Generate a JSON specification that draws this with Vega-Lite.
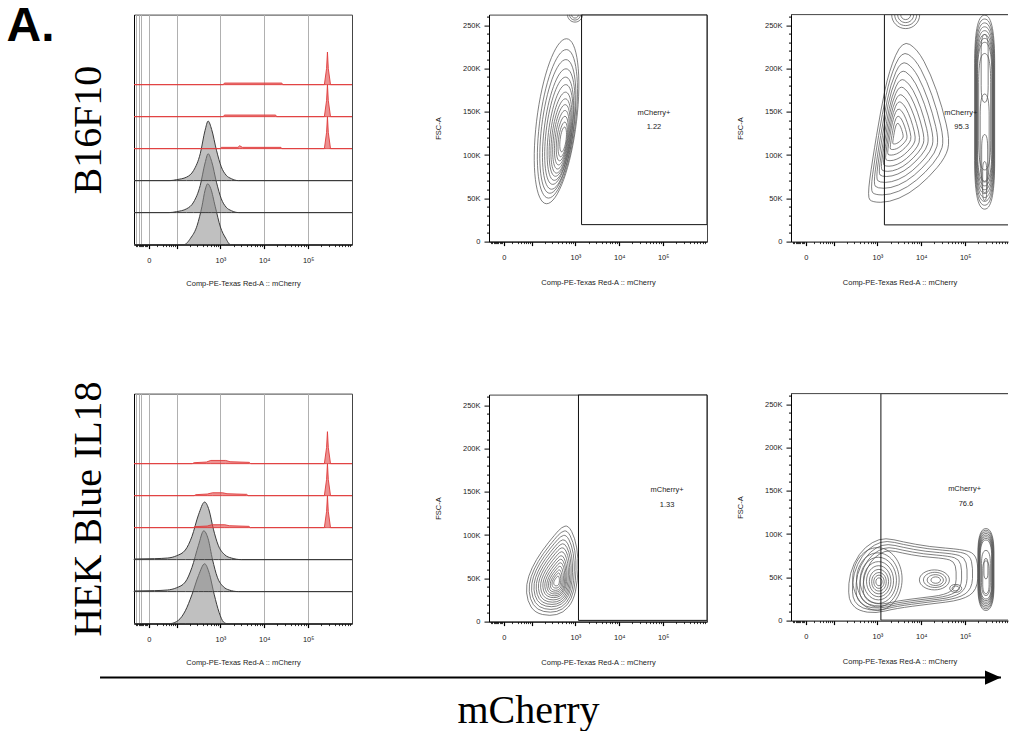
{
  "$schema": "https://vega.github.io/schema/vega-lite/v6.json",
  "padding": {"left": 6, "top": 2.6, "right": 0, "bottom": 0},
  "title": {"text": "A.", "anchor": "start", "frame": "bounds", "font": "Liberation Sans", "fontSize": 48, "fontWeight": "bold", "color": "#000", "baseline": "alphabetic", "offset": -74.5, "dx": -61},
  "datasets": {
    "h1": [
      {"s":"c1","k":"c","u":1.03,"y0":0,"y1":0},{"s":"c1","k":"c","u":2.17,"y0":0,"y1":0},{"s":"c1","k":"c","u":2.32,"y0":0,"y1":0.2},{"s":"c1","k":"c","u":2.47,"y0":0,"y1":0.6},{"s":"c1","k":"c","u":2.58,"y0":0,"y1":1.2},{"s":"c1","k":"c","u":2.65,"y0":0,"y1":1.7},{"s":"c1","k":"c","u":2.71,"y0":0,"y1":1.9},{"s":"c1","k":"c","u":2.78,"y0":0,"y1":1.75},{"s":"c1","k":"c","u":2.88,"y0":0,"y1":1.2},{"s":"c1","k":"c","u":3.0,"y0":0,"y1":0.55},{"s":"c1","k":"c","u":3.12,"y0":0,"y1":0.2},{"s":"c1","k":"c","u":3.23,"y0":0,"y1":0},{"s":"c1","k":"c","u":6.0,"y0":0,"y1":0},
      {"s":"c2","k":"c","u":1.03,"y0":1,"y1":1},{"s":"c2","k":"c","u":1.83,"y0":1,"y1":1},{"s":"c2","k":"c","u":2.0,"y0":1,"y1":1.03},{"s":"c2","k":"c","u":2.23,"y0":1,"y1":1.12},{"s":"c2","k":"c","u":2.39,"y0":1,"y1":1.33},{"s":"c2","k":"c","u":2.54,"y0":1,"y1":1.85},{"s":"c2","k":"c","u":2.65,"y0":1,"y1":2.55},{"s":"c2","k":"c","u":2.72,"y0":1,"y1":2.84},{"s":"c2","k":"c","u":2.8,"y0":1,"y1":2.6},{"s":"c2","k":"c","u":2.91,"y0":1,"y1":1.95},{"s":"c2","k":"c","u":3.02,"y0":1,"y1":1.43},{"s":"c2","k":"c","u":3.13,"y0":1,"y1":1.17},{"s":"c2","k":"c","u":3.25,"y0":1,"y1":1.06},{"s":"c2","k":"c","u":3.42,"y0":1,"y1":1},{"s":"c2","k":"c","u":6.0,"y0":1,"y1":1},
      {"s":"c3","k":"c","u":1.03,"y0":2,"y1":2},{"s":"c3","k":"c","u":1.85,"y0":2,"y1":2},{"s":"c3","k":"c","u":2.0,"y0":2,"y1":2.03},{"s":"c3","k":"c","u":2.23,"y0":2,"y1":2.11},{"s":"c3","k":"c","u":2.39,"y0":2,"y1":2.32},{"s":"c3","k":"c","u":2.54,"y0":2,"y1":2.84},{"s":"c3","k":"c","u":2.65,"y0":2,"y1":3.57},{"s":"c3","k":"c","u":2.72,"y0":2,"y1":3.86},{"s":"c3","k":"c","u":2.8,"y0":2,"y1":3.6},{"s":"c3","k":"c","u":2.91,"y0":2,"y1":2.95},{"s":"c3","k":"c","u":3.02,"y0":2,"y1":2.43},{"s":"c3","k":"c","u":3.13,"y0":2,"y1":2.17},{"s":"c3","k":"c","u":3.25,"y0":2,"y1":2.06},{"s":"c3","k":"c","u":3.41,"y0":2,"y1":2},{"s":"c3","k":"c","u":6.0,"y0":2,"y1":2},
      {"s":"m1","k":"m","u":1.03,"y0":3,"y1":3},{"s":"m1","k":"m","u":3.0,"y0":3,"y1":3},{"s":"m1","k":"m","u":3.02,"y0":3,"y1":3.04},{"s":"m1","k":"m","u":3.4,"y0":3,"y1":3.04},{"s":"m1","k":"m","u":3.44,"y0":3,"y1":3.09},{"s":"m1","k":"m","u":3.5,"y0":3,"y1":3.04},{"s":"m1","k":"m","u":4.38,"y0":3,"y1":3.04},{"s":"m1","k":"m","u":4.4,"y0":3,"y1":3},{"s":"m1","k":"m","u":5.37,"y0":3,"y1":3},{"s":"m1","k":"m","u":5.42,"y0":3,"y1":3.5},{"s":"m1","k":"m","u":5.44,"y0":3,"y1":4.0},{"s":"m1","k":"m","u":5.46,"y0":3,"y1":3.5},{"s":"m1","k":"m","u":5.51,"y0":3,"y1":3},{"s":"m1","k":"m","u":6.0,"y0":3,"y1":3},
      {"s":"m2","k":"m","u":1.03,"y0":4,"y1":4},{"s":"m2","k":"m","u":3.07,"y0":4,"y1":4},{"s":"m2","k":"m","u":3.09,"y0":4,"y1":4.05},{"s":"m2","k":"m","u":4.26,"y0":4,"y1":4.05},{"s":"m2","k":"m","u":4.28,"y0":4,"y1":4},{"s":"m2","k":"m","u":5.37,"y0":4,"y1":4},{"s":"m2","k":"m","u":5.42,"y0":4,"y1":4.5},{"s":"m2","k":"m","u":5.44,"y0":4,"y1":5.0},{"s":"m2","k":"m","u":5.46,"y0":4,"y1":4.5},{"s":"m2","k":"m","u":5.51,"y0":4,"y1":4},{"s":"m2","k":"m","u":6.0,"y0":4,"y1":4},
      {"s":"m3","k":"m","u":1.03,"y0":5,"y1":5},{"s":"m3","k":"m","u":3.07,"y0":5,"y1":5},{"s":"m3","k":"m","u":3.09,"y0":5,"y1":5.05},{"s":"m3","k":"m","u":4.4,"y0":5,"y1":5.05},{"s":"m3","k":"m","u":4.42,"y0":5,"y1":5},{"s":"m3","k":"m","u":5.37,"y0":5,"y1":5},{"s":"m3","k":"m","u":5.42,"y0":5,"y1":5.5},{"s":"m3","k":"m","u":5.44,"y0":5,"y1":6.02},{"s":"m3","k":"m","u":5.46,"y0":5,"y1":5.5},{"s":"m3","k":"m","u":5.51,"y0":5,"y1":5},{"s":"m3","k":"m","u":6.0,"y0":5,"y1":5}
    ],
    "h2": [
      {"s":"c1","k":"c","u":1.03,"y0":0,"y1":0},{"s":"c1","k":"c","u":1.85,"y0":0,"y1":0},{"s":"c1","k":"c","u":2.04,"y0":0,"y1":0.1},{"s":"c1","k":"c","u":2.2,"y0":0,"y1":0.4},{"s":"c1","k":"c","u":2.35,"y0":0,"y1":0.9},{"s":"c1","k":"c","u":2.5,"y0":0,"y1":1.5},{"s":"c1","k":"c","u":2.64,"y0":0,"y1":1.87},{"s":"c1","k":"c","u":2.74,"y0":0,"y1":1.6},{"s":"c1","k":"c","u":2.86,"y0":0,"y1":0.9},{"s":"c1","k":"c","u":2.97,"y0":0,"y1":0.35},{"s":"c1","k":"c","u":3.07,"y0":0,"y1":0.05},{"s":"c1","k":"c","u":3.15,"y0":0,"y1":0},{"s":"c1","k":"c","u":6.0,"y0":0,"y1":0},
      {"s":"c2","k":"c","u":1.03,"y0":1,"y1":1.02},{"s":"c2","k":"c","u":1.5,"y0":1,"y1":1.03},{"s":"c2","k":"c","u":1.79,"y0":1,"y1":1.05},{"s":"c2","k":"c","u":2.0,"y0":1,"y1":1.12},{"s":"c2","k":"c","u":2.2,"y0":1,"y1":1.3},{"s":"c2","k":"c","u":2.35,"y0":1,"y1":1.75},{"s":"c2","k":"c","u":2.5,"y0":1,"y1":2.45},{"s":"c2","k":"c","u":2.62,"y0":1,"y1":2.9},{"s":"c2","k":"c","u":2.72,"y0":1,"y1":2.65},{"s":"c2","k":"c","u":2.82,"y0":1,"y1":2.0},{"s":"c2","k":"c","u":2.93,"y0":1,"y1":1.45},{"s":"c2","k":"c","u":3.07,"y0":1,"y1":1.15},{"s":"c2","k":"c","u":3.2,"y0":1,"y1":1.05},{"s":"c2","k":"c","u":3.41,"y0":1,"y1":1},{"s":"c2","k":"c","u":6.0,"y0":1,"y1":1},
      {"s":"c3","k":"c","u":1.03,"y0":2,"y1":2.02},{"s":"c3","k":"c","u":1.5,"y0":2,"y1":2.03},{"s":"c3","k":"c","u":1.8,"y0":2,"y1":2.05},{"s":"c3","k":"c","u":2.0,"y0":2,"y1":2.12},{"s":"c3","k":"c","u":2.2,"y0":2,"y1":2.3},{"s":"c3","k":"c","u":2.35,"y0":2,"y1":2.72},{"s":"c3","k":"c","u":2.5,"y0":2,"y1":3.4},{"s":"c3","k":"c","u":2.64,"y0":2,"y1":3.8},{"s":"c3","k":"c","u":2.74,"y0":2,"y1":3.55},{"s":"c3","k":"c","u":2.84,"y0":2,"y1":2.95},{"s":"c3","k":"c","u":2.95,"y0":2,"y1":2.45},{"s":"c3","k":"c","u":3.1,"y0":2,"y1":2.15},{"s":"c3","k":"c","u":3.25,"y0":2,"y1":2.05},{"s":"c3","k":"c","u":3.48,"y0":2,"y1":2},{"s":"c3","k":"c","u":6.0,"y0":2,"y1":2},
      {"s":"m1","k":"m","u":1.03,"y0":3,"y1":3},{"s":"m1","k":"m","u":2.38,"y0":3,"y1":3},{"s":"m1","k":"m","u":2.42,"y0":3,"y1":3.03},{"s":"m1","k":"m","u":2.7,"y0":3,"y1":3.05},{"s":"m1","k":"m","u":2.8,"y0":3,"y1":3.09},{"s":"m1","k":"m","u":3.1,"y0":3,"y1":3.09},{"s":"m1","k":"m","u":3.2,"y0":3,"y1":3.06},{"s":"m1","k":"m","u":3.65,"y0":3,"y1":3.04},{"s":"m1","k":"m","u":3.68,"y0":3,"y1":3},{"s":"m1","k":"m","u":5.37,"y0":3,"y1":3},{"s":"m1","k":"m","u":5.42,"y0":3,"y1":3.5},{"s":"m1","k":"m","u":5.44,"y0":3,"y1":4.0},{"s":"m1","k":"m","u":5.46,"y0":3,"y1":3.5},{"s":"m1","k":"m","u":5.51,"y0":3,"y1":3},{"s":"m1","k":"m","u":6.0,"y0":3,"y1":3},
      {"s":"m2","k":"m","u":1.03,"y0":4,"y1":4},{"s":"m2","k":"m","u":2.4,"y0":4,"y1":4},{"s":"m2","k":"m","u":2.44,"y0":4,"y1":4.03},{"s":"m2","k":"m","u":2.7,"y0":4,"y1":4.05},{"s":"m2","k":"m","u":2.82,"y0":4,"y1":4.09},{"s":"m2","k":"m","u":3.05,"y0":4,"y1":4.09},{"s":"m2","k":"m","u":3.15,"y0":4,"y1":4.06},{"s":"m2","k":"m","u":3.6,"y0":4,"y1":4.04},{"s":"m2","k":"m","u":3.63,"y0":4,"y1":4},{"s":"m2","k":"m","u":5.37,"y0":4,"y1":4},{"s":"m2","k":"m","u":5.42,"y0":4,"y1":4.5},{"s":"m2","k":"m","u":5.44,"y0":4,"y1":5.0},{"s":"m2","k":"m","u":5.46,"y0":4,"y1":4.5},{"s":"m2","k":"m","u":5.51,"y0":4,"y1":4},{"s":"m2","k":"m","u":6.0,"y0":4,"y1":4},
      {"s":"m3","k":"m","u":1.03,"y0":5,"y1":5},{"s":"m3","k":"m","u":2.36,"y0":5,"y1":5},{"s":"m3","k":"m","u":2.4,"y0":5,"y1":5.03},{"s":"m3","k":"m","u":2.68,"y0":5,"y1":5.05},{"s":"m3","k":"m","u":2.78,"y0":5,"y1":5.1},{"s":"m3","k":"m","u":3.12,"y0":5,"y1":5.1},{"s":"m3","k":"m","u":3.22,"y0":5,"y1":5.06},{"s":"m3","k":"m","u":3.66,"y0":5,"y1":5.04},{"s":"m3","k":"m","u":3.69,"y0":5,"y1":5},{"s":"m3","k":"m","u":5.37,"y0":5,"y1":5},{"s":"m3","k":"m","u":5.42,"y0":5,"y1":5.5},{"s":"m3","k":"m","u":5.44,"y0":5,"y1":6.0},{"s":"m3","k":"m","u":5.46,"y0":5,"y1":5.5},{"s":"m3","k":"m","u":5.51,"y0":5,"y1":5},{"s":"m3","k":"m","u":6.0,"y0":5,"y1":5}
    ],
    "c1": [
      {"u":2.57,"f":139000,"r":1,"sh":"tilt"},{"u":2.59,"f":136000,"r":0.9,"sh":"tilt"},{"u":2.6,"f":133000,"r":0.81,"sh":"tilt"},{"u":2.62,"f":130000,"r":0.73,"sh":"tilt"},{"u":2.63,"f":128000,"r":0.65,"sh":"tilt"},{"u":2.65,"f":126000,"r":0.58,"sh":"tilt"},{"u":2.66,"f":124000,"r":0.51,"sh":"tilt"},{"u":2.67,"f":122000,"r":0.45,"sh":"tilt"},{"u":2.68,"f":121000,"r":0.39,"sh":"tilt"},{"u":2.69,"f":120000,"r":0.33,"sh":"tilt"},{"u":2.7,"f":119000,"r":0.27,"sh":"tilt"},{"u":2.71,"f":118000,"r":0.21,"sh":"tilt"},{"u":2.72,"f":118000,"r":0.15,"sh":"tilt"},
      {"u":2.99,"f":262144,"r":0.15,"sh":"cap"},{"u":2.99,"f":262144,"r":0.11,"sh":"cap"},{"u":2.99,"f":262144,"r":0.07,"sh":"cap"}
    ],
    "c2": [
      {"u":3.645,"f":132000,"r":1,"sh":"tear"},{"u":3.62,"f":131000,"r":0.89,"sh":"tear"},{"u":3.6,"f":130000,"r":0.79,"sh":"tear"},{"u":3.58,"f":129000,"r":0.7,"sh":"tear"},{"u":3.56,"f":128000,"r":0.61,"sh":"tear"},{"u":3.54,"f":127000,"r":0.53,"sh":"tear"},{"u":3.52,"f":126000,"r":0.45,"sh":"tear"},{"u":3.5,"f":125500,"r":0.37,"sh":"tear"},{"u":3.48,"f":125000,"r":0.29,"sh":"tear"},{"u":3.47,"f":124500,"r":0.21,"sh":"tear"},{"u":3.46,"f":124000,"r":0.13,"sh":"tear"},
      {"u":3.645,"f":262144,"r":0.28,"sh":"cap"},{"u":3.645,"f":262144,"r":0.22,"sh":"cap"},{"u":3.645,"f":262144,"r":0.16,"sh":"cap"},{"u":3.645,"f":262144,"r":0.1,"sh":"cap"},
      {"u":5.446,"f":149500,"r":1,"sh":"col"},{"u":5.446,"f":149500,"r":0.96,"sh":"col"},{"u":5.446,"f":149500,"r":0.92,"sh":"col"},{"u":5.446,"f":149500,"r":0.88,"sh":"col"},{"u":5.446,"f":149500,"r":0.84,"sh":"col"},{"u":5.446,"f":149500,"r":0.8,"sh":"col"},{"u":5.446,"f":149500,"r":0.76,"sh":"col"},{"u":5.446,"f":149500,"r":0.72,"sh":"col"},
      {"u":5.446,"f":150000,"r":0.6,"sh":"col"},{"u":5.446,"f":120000,"r":0.45,"sh":"col"},{"u":5.446,"f":90000,"r":0.3,"sh":"col"},{"u":5.446,"f":200000,"r":0.35,"sh":"col"},{"u":5.446,"f":70000,"r":0.2,"sh":"col"}
    ],
    "c3": [
      {"u":2.466,"f":59000,"r":1,"sh":"egg"},{"u":2.474,"f":58000,"r":0.91,"sh":"egg"},{"u":2.482,"f":57000,"r":0.83,"sh":"egg"},{"u":2.49,"f":56000,"r":0.75,"sh":"egg"},{"u":2.5,"f":55000,"r":0.68,"sh":"egg"},{"u":2.51,"f":54000,"r":0.61,"sh":"egg"},{"u":2.52,"f":53000,"r":0.54,"sh":"egg"},{"u":2.53,"f":52000,"r":0.47,"sh":"egg"},{"u":2.54,"f":51000,"r":0.41,"sh":"egg"},{"u":2.55,"f":50000,"r":0.35,"sh":"egg"},{"u":2.555,"f":49000,"r":0.29,"sh":"egg"},{"u":2.56,"f":48000,"r":0.23,"sh":"egg"},{"u":2.565,"f":47500,"r":0.17,"sh":"egg"},{"u":2.57,"f":47000,"r":0.11,"sh":"egg"}
    ],
    "c4": [
      {"u":3.795,"f":50600,"r":1,"sh":"band"},{"u":3.78,"f":50500,"r":0.93,"sh":"band"},{"u":3.76,"f":50000,"r":0.86,"sh":"band"},{"u":3.74,"f":49500,"r":0.79,"sh":"band"},{"u":3.72,"f":49000,"r":0.72,"sh":"band"},
      {"u":3.0,"f":48000,"r":0.95,"sh":"lobe"},{"u":3.01,"f":47000,"r":0.82,"sh":"lobe"},{"u":3.02,"f":46500,"r":0.7,"sh":"lobe"},{"u":3.025,"f":46000,"r":0.58,"sh":"lobe"},{"u":3.03,"f":45500,"r":0.47,"sh":"lobe"},{"u":3.035,"f":45000,"r":0.37,"sh":"lobe"},{"u":3.036,"f":44800,"r":0.28,"sh":"lobe"},{"u":3.036,"f":44800,"r":0.2,"sh":"lobe"},{"u":3.036,"f":44800,"r":0.12,"sh":"lobe"},
      {"u":4.3,"f":47000,"r":0.5,"sh":"oval"},{"u":4.31,"f":47000,"r":0.38,"sh":"oval"},{"u":4.32,"f":46800,"r":0.27,"sh":"oval"},{"u":4.33,"f":46800,"r":0.16,"sh":"oval"},{"u":4.785,"f":37200,"r":0.2,"sh":"oval"},{"u":4.785,"f":37200,"r":0.12,"sh":"oval"},
      {"u":5.475,"f":59000,"r":1,"sh":"col2"},{"u":5.475,"f":59000,"r":0.96,"sh":"col2"},{"u":5.475,"f":59000,"r":0.92,"sh":"col2"},{"u":5.475,"f":59000,"r":0.88,"sh":"col2"},{"u":5.475,"f":59000,"r":0.84,"sh":"col2"},{"u":5.475,"f":59000,"r":0.8,"sh":"col2"},{"u":5.475,"f":59000,"r":0.76,"sh":"col2"},{"u":5.475,"f":59000,"r":0.72,"sh":"col2"},{"u":5.475,"f":55000,"r":0.55,"sh":"col2"},{"u":5.475,"f":50000,"r":0.4,"sh":"col2"},{"u":5.475,"f":60000,"r":0.25,"sh":"col2"}
    ]
  },
  "vconcat": [
    {
      "spacing": 78,
      "hconcat": [
        {
          "spacing": 92,
          "vconcat": [
            {
              "width": 218, "height": 230,
              "data": {"name": "h1"},
              "resolve": {"axis": {"x": "independent"}},
              "layer": [
                {"transform": [{"filter": "datum.k == 'c'"}],
                 "mark": {"type": "area", "interpolate": "monotone", "fill": "#8c8c8c", "fillOpacity": 0.55, "stroke": "#3a3a3a", "strokeWidth": 1},
                 "encoding": {
                   "x": {"field": "u", "type": "quantitative", "scale": {"domain": [1.03, 6.0], "nice": false, "zero": false},
                         "axis": {"orient": "bottom", "values": [1.37, 2, 3, 4, 5], "labelExpr": "datum.value == 1.37 ? '0' : datum.value == 3 ? '10³' : datum.value == 4 ? '10⁴' : datum.value == 5 ? '10⁵' : ''", "tickSize": 4, "tickWidth": 1.2, "labelPadding": 8, "domain": true, "grid": false, "title": "Comp-PE-Texas Red-A :: mCherry", "titleY": 41, "titleBaseline": "alphabetic"}},
                   "y": {"field": "y1", "type": "quantitative", "scale": {"domain": [0, 7.19], "nice": false, "zero": false},
                         "axis": {"labels": false, "ticks": false, "grid": false, "domain": true, "title": "B16F10", "titleFont": "Liberation Serif", "titleFontSize": 40, "titleFontWeight": "normal", "titleColor": "#000", "titlePadding": 26}},
                   "y2": {"field": "y0"},
                   "detail": {"field": "s"}
                 }},
                {"transform": [{"filter": "datum.k == 'm'"}],
                 "mark": {"type": "area", "fill": "#e04848", "fillOpacity": 0.6, "stroke": "#e03a3a", "strokeWidth": 0.9},
                 "encoding": {
                   "x": {"field": "u", "type": "quantitative",
                         "axis": {"orient": "bottom", "values": [1.075,1.105,1.135,1.16,1.18,1.21,1.24,1.27,1.3,1.33,1.37,1.55,1.68,1.77,1.83,1.88,1.92,1.96,2,2.301,2.477,2.602,2.699,2.778,2.845,2.903,2.954,3,3.301,3.477,3.602,3.699,3.778,3.845,3.903,3.954,4,4.301,4.477,4.602,4.699,4.778,4.845,4.903,4.954,5,5.301,5.477,5.602,5.699,5.778,5.845,5.903,5.954], "labels": false, "tickSize": 2, "tickWidth": 0.8, "domain": false, "title": null, "grid": true, "gridColor": "#b0b0b0", "gridOpacity": {"condition": {"test": "indexof([1.075,1.135,1.18,1.37,2,3,4,5], datum.value) >= 0", "value": 1}, "value": 0}}},
                   "y": {"field": "y1", "type": "quantitative"}, "y2": {"field": "y0"}, "detail": {"field": "s"}}}
              ]
            },
            {
              "width": 218, "height": 230,
              "data": {"name": "h2"},
              "resolve": {"axis": {"x": "independent"}},
              "layer": [
                {"transform": [{"filter": "datum.k == 'c'"}],
                 "mark": {"type": "area", "interpolate": "monotone", "fill": "#8c8c8c", "fillOpacity": 0.55, "stroke": "#3a3a3a", "strokeWidth": 1},
                 "encoding": {
                   "x": {"field": "u", "type": "quantitative", "scale": {"domain": [1.03, 6.0], "nice": false, "zero": false},
                         "axis": {"orient": "bottom", "values": [1.37, 2, 3, 4, 5], "labelExpr": "datum.value == 1.37 ? '0' : datum.value == 3 ? '10³' : datum.value == 4 ? '10⁴' : datum.value == 5 ? '10⁵' : ''", "tickSize": 4, "tickWidth": 1.2, "labelPadding": 8, "domain": true, "grid": false, "title": "Comp-PE-Texas Red-A :: mCherry", "titleY": 41, "titleBaseline": "alphabetic"}},
                   "y": {"field": "y1", "type": "quantitative", "scale": {"domain": [0, 7.19], "nice": false, "zero": false},
                         "axis": {"labels": false, "ticks": false, "grid": false, "domain": true, "title": "HEK Blue IL18", "titleFont": "Liberation Serif", "titleFontSize": 40, "titleFontWeight": "normal", "titleColor": "#000", "titlePadding": 26}},
                   "y2": {"field": "y0"},
                   "detail": {"field": "s"}
                 }},
                {"transform": [{"filter": "datum.k == 'm'"}],
                 "mark": {"type": "area", "fill": "#e04848", "fillOpacity": 0.6, "stroke": "#e03a3a", "strokeWidth": 0.9},
                 "encoding": {
                   "x": {"field": "u", "type": "quantitative",
                         "axis": {"orient": "bottom", "values": [1.075,1.105,1.135,1.16,1.18,1.21,1.24,1.27,1.3,1.33,1.37,1.55,1.68,1.77,1.83,1.88,1.92,1.96,2,2.301,2.477,2.602,2.699,2.778,2.845,2.903,2.954,3,3.301,3.477,3.602,3.699,3.778,3.845,3.903,3.954,4,4.301,4.477,4.602,4.699,4.778,4.845,4.903,4.954,5,5.301,5.477,5.602,5.699,5.778,5.845,5.903,5.954], "labels": false, "tickSize": 2, "tickWidth": 0.8, "domain": false, "title": null, "grid": true, "gridColor": "#b0b0b0", "gridOpacity": {"condition": {"test": "indexof([1.075,1.135,1.18,1.37,2,3,4,5], datum.value) >= 0", "value": 1}, "value": 0}}},
                   "y": {"field": "y1", "type": "quantitative"}, "y2": {"field": "y0"}, "detail": {"field": "s"}}}
              ]
            }
          ]
        },
        {
          "spacing": 28,
          "hconcat": [
            {
              "spacing": 107,
              "vconcat": [
                {
                  "width": 218, "height": 227,
                  "resolve": {"axis": {"x": "independent", "y": "independent"}},
                  "layer": [
                    {"data": {"name": "c1"},
                     "mark": {"type": "point", "filled": false, "strokeWidth": 0.75, "color": "#555", "opacity": 1, "clip": true, "strokeJoin": "round"},
                     "encoding": {
                       "x": {"field": "u", "type": "quantitative", "scale": {"domain": [1.03, 6.0], "nice": false, "zero": false},
                             "axis": {"orient": "bottom", "values": [1.37, 2, 3, 4, 5], "labelExpr": "datum.value == 1.37 ? '0' : datum.value == 3 ? '10³' : datum.value == 4 ? '10⁴' : datum.value == 5 ? '10⁵' : ''", "tickSize": 4, "tickWidth": 1.2, "labelPadding": 8, "domain": true, "title": "Comp-PE-Texas Red-A :: mCherry", "titleY": 42.5, "titleBaseline": "alphabetic"}},
                       "y": {"field": "f", "type": "quantitative", "scale": {"domain": [0, 262144], "nice": false, "zero": false},
                             "axis": {"orient": "left", "values": [0, 50000, 100000, 150000, 200000, 250000], "labelExpr": "datum.value == 0 ? '0' : (datum.value / 1000) + 'K'", "tickSize": 5, "labelPadding": 4, "domain": true, "title": "FSC-A", "titlePadding": 20}},
                       "shape": {"field": "sh", "type": "nominal", "legend": null, "scale": {"domain": ["tilt", "cap", "tear", "col", "egg", "band", "lobe", "oval", "col2"], "range": ["M0.198,-1.65C0.419,-1.65,0.509,-0.911,0.4,0C0.291,0.911,0.023,1.65,-0.198,1.65C-0.419,1.65,-0.509,0.911,-0.4,0C-0.291,-0.911,-0.023,-1.65,0.198,-1.65Z", "M-1,0A1,1,0,0,0,1,0", "M-0.717,1.45Q-0.767,1.4,-0.717,1.033Q-0.667,0.667,-0.583,0.167Q-0.5,-0.333,-0.417,-0.733Q-0.333,-1.133,-0.2,-1.44Q-0.067,-1.747,0.083,-1.657Q0.233,-1.567,0.367,-1.317Q0.5,-1.067,0.617,-0.733Q0.733,-0.4,0.81,-0.067Q0.887,0.267,0.843,0.433Q0.8,0.6,0.633,0.8Q0.467,1,0.267,1.167Q0.067,1.333,-0.133,1.417Q-0.333,1.5,-0.5,1.5Q-0.667,1.5,-0.717,1.45Z", "M0,-1.94C0.15,-1.94,0.2,-1.55,0.2,-0.97L0.2,0.97C0.2,1.55,0.15,1.94,0,1.94C-0.15,1.94,-0.2,1.55,-0.2,0.97L-0.2,-0.97C-0.2,-1.55,-0.15,-1.94,0,-1.94Z", "M0.26,-0.887Q0.327,-0.907,0.394,-0.78Q0.46,-0.653,0.494,-0.453Q0.527,-0.253,0.52,-0.02Q0.513,0.213,0.47,0.413Q0.427,0.613,0.327,0.73Q0.227,0.847,0.094,0.88Q-0.04,0.913,-0.19,0.88Q-0.34,0.847,-0.417,0.73Q-0.493,0.613,-0.507,0.447Q-0.52,0.28,-0.464,0.114Q-0.407,-0.053,-0.307,-0.22Q-0.207,-0.387,-0.074,-0.554Q0.06,-0.72,0.127,-0.794Q0.193,-0.867,0.26,-0.887Z", "M-1.257,0.433Q-1.28,0.333,-1.267,0.133Q-1.253,-0.067,-1.16,-0.267Q-1.067,-0.467,-0.934,-0.584Q-0.8,-0.7,-0.667,-0.74Q-0.533,-0.78,-0.367,-0.74Q-0.2,-0.7,0.067,-0.65Q0.333,-0.6,0.667,-0.574Q1,-0.547,1.127,-0.507Q1.253,-0.467,1.287,-0.334Q1.32,-0.2,1.31,0.034Q1.3,0.267,1.15,0.367Q1,0.467,0.667,0.507Q0.333,0.547,0,0.59Q-0.333,0.633,-0.533,0.683Q-0.733,0.733,-0.9,0.707Q-1.067,0.68,-1.15,0.607Q-1.233,0.533,-1.257,0.433Z", "M0.52,0A0.52,0.66,0,1,1,-0.52,0A0.52,0.66,0,1,1,0.52,0Z", "M0.6,0A0.6,0.4,0,1,1,-0.6,0A0.6,0.4,0,1,1,0.6,0Z", "M0,-0.82C0.12,-0.82,0.16,-0.6,0.16,-0.35L0.16,0.35C0.16,0.6,0.12,0.82,0,0.82C-0.12,0.82,-0.16,0.6,-0.16,0.35L-0.16,-0.35C-0.16,-0.6,-0.12,-0.82,0,-0.82Z"]}},
                       "size": {"field": "r", "type": "quantitative", "legend": null, "scale": {"type": "pow", "exponent": 2, "domain": [0, 1], "range": [0, 10000]}}
                     }},
                    {"data": {"values": [{"x1": 3.14, "x2": 6.0, "y1": 19600, "y2": 262144}]},
                     "mark": {"type": "rect", "filled": false, "color": "#111", "strokeWidth": 1, "clip": true},
                     "encoding": {
                       "x": {"field": "x1", "type": "quantitative", "axis": {"orient": "bottom", "values": [1.075,1.105,1.135,1.16,1.18,1.21,1.24,1.27,1.3,1.33,1.55,1.68,1.77,1.83,1.88,1.92,1.96,2.301,2.477,2.602,2.699,2.778,2.845,2.903,2.954,3.301,3.477,3.602,3.699,3.778,3.845,3.903,3.954,4.301,4.477,4.602,4.699,4.778,4.845,4.903,4.954,5.301,5.477,5.602,5.699,5.778,5.845,5.903,5.954], "labels": false, "tickSize": 2, "tickWidth": 0.8, "domain": false, "title": null}},
                       "x2": {"field": "x2"},
                       "y": {"field": "y1", "type": "quantitative", "axis": {"orient": "left", "values": [10000,20000,30000,40000,60000,70000,80000,90000,110000,120000,130000,140000,160000,170000,180000,190000,210000,220000,230000,240000,260000], "labels": false, "tickSize": 2.5, "domain": false, "title": null}},
                       "y2": {"field": "y2"}}},
                    {"data": {"values": [{"u": 4.79, "f": 148000, "t": "mCherry+"}, {"u": 4.79, "f": 132000, "t": "1.22"}]},
                     "mark": {"type": "text", "font": "Liberation Sans", "fontSize": 7.5, "color": "#222"},
                     "encoding": {"x": {"field": "u", "type": "quantitative", "axis": null}, "y": {"field": "f", "type": "quantitative", "axis": null}, "text": {"field": "t"}}}
                  ]
                },
                {
                  "width": 218, "height": 227,
                  "resolve": {"axis": {"x": "independent", "y": "independent"}},
                  "layer": [
                    {"data": {"name": "c3"},
                     "mark": {"type": "point", "filled": false, "strokeWidth": 0.75, "color": "#555", "opacity": 1, "clip": true, "strokeJoin": "round"},
                     "encoding": {
                       "x": {"field": "u", "type": "quantitative", "scale": {"domain": [1.03, 6.0], "nice": false, "zero": false},
                             "axis": {"orient": "bottom", "values": [1.37, 2, 3, 4, 5], "labelExpr": "datum.value == 1.37 ? '0' : datum.value == 3 ? '10³' : datum.value == 4 ? '10⁴' : datum.value == 5 ? '10⁵' : ''", "tickSize": 4, "tickWidth": 1.2, "labelPadding": 8, "domain": true, "title": "Comp-PE-Texas Red-A :: mCherry", "titleY": 42.5, "titleBaseline": "alphabetic"}},
                       "y": {"field": "f", "type": "quantitative", "scale": {"domain": [0, 262144], "nice": false, "zero": false},
                             "axis": {"orient": "left", "values": [0, 50000, 100000, 150000, 200000, 250000], "labelExpr": "datum.value == 0 ? '0' : (datum.value / 1000) + 'K'", "tickSize": 5, "labelPadding": 4, "domain": true, "title": "FSC-A", "titlePadding": 20}},
                       "shape": {"field": "sh", "type": "nominal", "legend": null, "scale": {"domain": ["tilt", "cap", "tear", "col", "egg", "band", "lobe", "oval", "col2"], "range": ["M0.198,-1.65C0.419,-1.65,0.509,-0.911,0.4,0C0.291,0.911,0.023,1.65,-0.198,1.65C-0.419,1.65,-0.509,0.911,-0.4,0C-0.291,-0.911,-0.023,-1.65,0.198,-1.65Z", "M-1,0A1,1,0,0,0,1,0", "M-0.717,1.45Q-0.767,1.4,-0.717,1.033Q-0.667,0.667,-0.583,0.167Q-0.5,-0.333,-0.417,-0.733Q-0.333,-1.133,-0.2,-1.44Q-0.067,-1.747,0.083,-1.657Q0.233,-1.567,0.367,-1.317Q0.5,-1.067,0.617,-0.733Q0.733,-0.4,0.81,-0.067Q0.887,0.267,0.843,0.433Q0.8,0.6,0.633,0.8Q0.467,1,0.267,1.167Q0.067,1.333,-0.133,1.417Q-0.333,1.5,-0.5,1.5Q-0.667,1.5,-0.717,1.45Z", "M0,-1.94C0.15,-1.94,0.2,-1.55,0.2,-0.97L0.2,0.97C0.2,1.55,0.15,1.94,0,1.94C-0.15,1.94,-0.2,1.55,-0.2,0.97L-0.2,-0.97C-0.2,-1.55,-0.15,-1.94,0,-1.94Z", "M0.26,-0.887Q0.327,-0.907,0.394,-0.78Q0.46,-0.653,0.494,-0.453Q0.527,-0.253,0.52,-0.02Q0.513,0.213,0.47,0.413Q0.427,0.613,0.327,0.73Q0.227,0.847,0.094,0.88Q-0.04,0.913,-0.19,0.88Q-0.34,0.847,-0.417,0.73Q-0.493,0.613,-0.507,0.447Q-0.52,0.28,-0.464,0.114Q-0.407,-0.053,-0.307,-0.22Q-0.207,-0.387,-0.074,-0.554Q0.06,-0.72,0.127,-0.794Q0.193,-0.867,0.26,-0.887Z", "M-1.257,0.433Q-1.28,0.333,-1.267,0.133Q-1.253,-0.067,-1.16,-0.267Q-1.067,-0.467,-0.934,-0.584Q-0.8,-0.7,-0.667,-0.74Q-0.533,-0.78,-0.367,-0.74Q-0.2,-0.7,0.067,-0.65Q0.333,-0.6,0.667,-0.574Q1,-0.547,1.127,-0.507Q1.253,-0.467,1.287,-0.334Q1.32,-0.2,1.31,0.034Q1.3,0.267,1.15,0.367Q1,0.467,0.667,0.507Q0.333,0.547,0,0.59Q-0.333,0.633,-0.533,0.683Q-0.733,0.733,-0.9,0.707Q-1.067,0.68,-1.15,0.607Q-1.233,0.533,-1.257,0.433Z", "M0.52,0A0.52,0.66,0,1,1,-0.52,0A0.52,0.66,0,1,1,0.52,0Z", "M0.6,0A0.6,0.4,0,1,1,-0.6,0A0.6,0.4,0,1,1,0.6,0Z", "M0,-0.82C0.12,-0.82,0.16,-0.6,0.16,-0.35L0.16,0.35C0.16,0.6,0.12,0.82,0,0.82C-0.12,0.82,-0.16,0.6,-0.16,0.35L-0.16,-0.35C-0.16,-0.6,-0.12,-0.82,0,-0.82Z"]}},
                       "size": {"field": "r", "type": "quantitative", "legend": null, "scale": {"type": "pow", "exponent": 2, "domain": [0, 1], "range": [0, 10000]}}
                     }},
                    {"data": {"values": [{"x1": 3.07, "x2": 6.0, "y1": 1400, "y2": 262144}]},
                     "mark": {"type": "rect", "filled": false, "color": "#111", "strokeWidth": 1, "clip": true},
                     "encoding": {
                       "x": {"field": "x1", "type": "quantitative", "axis": {"orient": "bottom", "values": [1.075,1.105,1.135,1.16,1.18,1.21,1.24,1.27,1.3,1.33,1.55,1.68,1.77,1.83,1.88,1.92,1.96,2.301,2.477,2.602,2.699,2.778,2.845,2.903,2.954,3.301,3.477,3.602,3.699,3.778,3.845,3.903,3.954,4.301,4.477,4.602,4.699,4.778,4.845,4.903,4.954,5.301,5.477,5.602,5.699,5.778,5.845,5.903,5.954], "labels": false, "tickSize": 2, "tickWidth": 0.8, "domain": false, "title": null}},
                       "x2": {"field": "x2"},
                       "y": {"field": "y1", "type": "quantitative", "axis": {"orient": "left", "values": [10000,20000,30000,40000,60000,70000,80000,90000,110000,120000,130000,140000,160000,170000,180000,190000,210000,220000,230000,240000,260000], "labels": false, "tickSize": 2.5, "domain": false, "title": null}},
                       "y2": {"field": "y2"}}},
                    {"data": {"values": [{"u": 5.09, "f": 151500, "t": "mCherry+"}, {"u": 5.09, "f": 135000, "t": "1.33"}]},
                     "mark": {"type": "text", "font": "Liberation Sans", "fontSize": 7.5, "color": "#222"},
                     "encoding": {"x": {"field": "u", "type": "quantitative", "axis": null}, "y": {"field": "f", "type": "quantitative", "axis": null}, "text": {"field": "t"}}}
                  ]
                }
              ]
            },
            {
              "spacing": 107,
              "vconcat": [
                {
                  "width": 217, "height": 227,
                  "view": {"stroke": null},
                  "resolve": {"axis": {"x": "independent", "y": "independent"}},
                  "layer": [
                    {"data": {"name": "c2"},
                     "mark": {"type": "point", "filled": false, "strokeWidth": 0.75, "color": "#555", "opacity": 1, "clip": true, "strokeJoin": "round"},
                     "encoding": {
                       "x": {"field": "u", "type": "quantitative", "scale": {"domain": [1.03, 5.978], "nice": false, "zero": false},
                             "axis": {"orient": "bottom", "values": [1.37, 2, 3, 4, 5], "labelExpr": "datum.value == 1.37 ? '0' : datum.value == 3 ? '10³' : datum.value == 4 ? '10⁴' : datum.value == 5 ? '10⁵' : ''", "tickSize": 4, "tickWidth": 1.2, "labelPadding": 8, "domain": true, "title": "Comp-PE-Texas Red-A :: mCherry", "titleY": 42.5, "titleBaseline": "alphabetic"}},
                       "y": {"field": "f", "type": "quantitative", "scale": {"domain": [0, 262144], "nice": false, "zero": false},
                             "axis": {"orient": "left", "values": [0, 50000, 100000, 150000, 200000, 250000], "labelExpr": "datum.value == 0 ? '0' : (datum.value / 1000) + 'K'", "tickSize": 5, "labelPadding": 4, "domain": true, "title": "FSC-A", "titlePadding": 20}},
                       "shape": {"field": "sh", "type": "nominal", "legend": null, "scale": {"domain": ["tilt", "cap", "tear", "col", "egg", "band", "lobe", "oval", "col2"], "range": ["M0.198,-1.65C0.419,-1.65,0.509,-0.911,0.4,0C0.291,0.911,0.023,1.65,-0.198,1.65C-0.419,1.65,-0.509,0.911,-0.4,0C-0.291,-0.911,-0.023,-1.65,0.198,-1.65Z", "M-1,0A1,1,0,0,0,1,0", "M-0.717,1.45Q-0.767,1.4,-0.717,1.033Q-0.667,0.667,-0.583,0.167Q-0.5,-0.333,-0.417,-0.733Q-0.333,-1.133,-0.2,-1.44Q-0.067,-1.747,0.083,-1.657Q0.233,-1.567,0.367,-1.317Q0.5,-1.067,0.617,-0.733Q0.733,-0.4,0.81,-0.067Q0.887,0.267,0.843,0.433Q0.8,0.6,0.633,0.8Q0.467,1,0.267,1.167Q0.067,1.333,-0.133,1.417Q-0.333,1.5,-0.5,1.5Q-0.667,1.5,-0.717,1.45Z", "M0,-1.94C0.15,-1.94,0.2,-1.55,0.2,-0.97L0.2,0.97C0.2,1.55,0.15,1.94,0,1.94C-0.15,1.94,-0.2,1.55,-0.2,0.97L-0.2,-0.97C-0.2,-1.55,-0.15,-1.94,0,-1.94Z", "M0.26,-0.887Q0.327,-0.907,0.394,-0.78Q0.46,-0.653,0.494,-0.453Q0.527,-0.253,0.52,-0.02Q0.513,0.213,0.47,0.413Q0.427,0.613,0.327,0.73Q0.227,0.847,0.094,0.88Q-0.04,0.913,-0.19,0.88Q-0.34,0.847,-0.417,0.73Q-0.493,0.613,-0.507,0.447Q-0.52,0.28,-0.464,0.114Q-0.407,-0.053,-0.307,-0.22Q-0.207,-0.387,-0.074,-0.554Q0.06,-0.72,0.127,-0.794Q0.193,-0.867,0.26,-0.887Z", "M-1.257,0.433Q-1.28,0.333,-1.267,0.133Q-1.253,-0.067,-1.16,-0.267Q-1.067,-0.467,-0.934,-0.584Q-0.8,-0.7,-0.667,-0.74Q-0.533,-0.78,-0.367,-0.74Q-0.2,-0.7,0.067,-0.65Q0.333,-0.6,0.667,-0.574Q1,-0.547,1.127,-0.507Q1.253,-0.467,1.287,-0.334Q1.32,-0.2,1.31,0.034Q1.3,0.267,1.15,0.367Q1,0.467,0.667,0.507Q0.333,0.547,0,0.59Q-0.333,0.633,-0.533,0.683Q-0.733,0.733,-0.9,0.707Q-1.067,0.68,-1.15,0.607Q-1.233,0.533,-1.257,0.433Z", "M0.52,0A0.52,0.66,0,1,1,-0.52,0A0.52,0.66,0,1,1,0.52,0Z", "M0.6,0A0.6,0.4,0,1,1,-0.6,0A0.6,0.4,0,1,1,0.6,0Z", "M0,-0.82C0.12,-0.82,0.16,-0.6,0.16,-0.35L0.16,0.35C0.16,0.6,0.12,0.82,0,0.82C-0.12,0.82,-0.16,0.6,-0.16,0.35L-0.16,-0.35C-0.16,-0.6,-0.12,-0.82,0,-0.82Z"]}},
                       "size": {"field": "r", "type": "quantitative", "legend": null, "scale": {"type": "pow", "exponent": 2, "domain": [0, 1], "range": [0, 10000]}}
                     }},
                    {"data": {"values": [{"x1": 3.16, "x2": 6.2, "y1": 19300, "y2": 262144}]},
                     "mark": {"type": "rect", "filled": false, "color": "#111", "strokeWidth": 1, "clip": true},
                     "encoding": {
                       "x": {"field": "x1", "type": "quantitative", "axis": {"orient": "bottom", "values": [1.075,1.105,1.135,1.16,1.18,1.21,1.24,1.27,1.3,1.33,1.55,1.68,1.77,1.83,1.88,1.92,1.96,2.301,2.477,2.602,2.699,2.778,2.845,2.903,2.954,3.301,3.477,3.602,3.699,3.778,3.845,3.903,3.954,4.301,4.477,4.602,4.699,4.778,4.845,4.903,4.954,5.301,5.477,5.602,5.699,5.778,5.845,5.903,5.954], "labels": false, "tickSize": 2, "tickWidth": 0.8, "domain": false, "title": null}},
                       "x2": {"field": "x2"},
                       "y": {"field": "y1", "type": "quantitative", "axis": {"orient": "left", "values": [10000,20000,30000,40000,60000,70000,80000,90000,110000,120000,130000,140000,160000,170000,180000,190000,210000,220000,230000,240000,260000], "labels": false, "tickSize": 2.5, "domain": false, "title": null}},
                       "y2": {"field": "y2"}}},
                    {"data": {"values": [{"f": 262144}]},
                     "mark": {"type": "rule", "color": "#444", "strokeWidth": 1},
                     "encoding": {"y": {"field": "f", "type": "quantitative", "axis": null}}},
                    {"data": {"values": [{"u": 4.9, "f": 148000, "t": "mCherry+"}, {"u": 4.92, "f": 132000, "t": "95.3"}]},
                     "mark": {"type": "text", "font": "Liberation Sans", "fontSize": 7.5, "color": "#222"},
                     "encoding": {"x": {"field": "u", "type": "quantitative", "axis": null}, "y": {"field": "f", "type": "quantitative", "axis": null}, "text": {"field": "t"}}}
                  ]
                },
                {
                  "width": 217, "height": 227,
                  "view": {"stroke": null},
                  "resolve": {"axis": {"x": "independent", "y": "independent"}},
                  "layer": [
                    {"data": {"name": "c4"},
                     "mark": {"type": "point", "filled": false, "strokeWidth": 0.75, "color": "#555", "opacity": 1, "clip": true, "strokeJoin": "round"},
                     "encoding": {
                       "x": {"field": "u", "type": "quantitative", "scale": {"domain": [1.03, 5.978], "nice": false, "zero": false},
                             "axis": {"orient": "bottom", "values": [1.37, 2, 3, 4, 5], "labelExpr": "datum.value == 1.37 ? '0' : datum.value == 3 ? '10³' : datum.value == 4 ? '10⁴' : datum.value == 5 ? '10⁵' : ''", "tickSize": 4, "tickWidth": 1.2, "labelPadding": 8, "domain": true, "title": "Comp-PE-Texas Red-A :: mCherry", "titleY": 42.5, "titleBaseline": "alphabetic"}},
                       "y": {"field": "f", "type": "quantitative", "scale": {"domain": [0, 262144], "nice": false, "zero": false},
                             "axis": {"orient": "left", "values": [0, 50000, 100000, 150000, 200000, 250000], "labelExpr": "datum.value == 0 ? '0' : (datum.value / 1000) + 'K'", "tickSize": 5, "labelPadding": 4, "domain": true, "title": "FSC-A", "titlePadding": 20}},
                       "shape": {"field": "sh", "type": "nominal", "legend": null, "scale": {"domain": ["tilt", "cap", "tear", "col", "egg", "band", "lobe", "oval", "col2"], "range": ["M0.198,-1.65C0.419,-1.65,0.509,-0.911,0.4,0C0.291,0.911,0.023,1.65,-0.198,1.65C-0.419,1.65,-0.509,0.911,-0.4,0C-0.291,-0.911,-0.023,-1.65,0.198,-1.65Z", "M-1,0A1,1,0,0,0,1,0", "M-0.717,1.45Q-0.767,1.4,-0.717,1.033Q-0.667,0.667,-0.583,0.167Q-0.5,-0.333,-0.417,-0.733Q-0.333,-1.133,-0.2,-1.44Q-0.067,-1.747,0.083,-1.657Q0.233,-1.567,0.367,-1.317Q0.5,-1.067,0.617,-0.733Q0.733,-0.4,0.81,-0.067Q0.887,0.267,0.843,0.433Q0.8,0.6,0.633,0.8Q0.467,1,0.267,1.167Q0.067,1.333,-0.133,1.417Q-0.333,1.5,-0.5,1.5Q-0.667,1.5,-0.717,1.45Z", "M0,-1.94C0.15,-1.94,0.2,-1.55,0.2,-0.97L0.2,0.97C0.2,1.55,0.15,1.94,0,1.94C-0.15,1.94,-0.2,1.55,-0.2,0.97L-0.2,-0.97C-0.2,-1.55,-0.15,-1.94,0,-1.94Z", "M0.26,-0.887Q0.327,-0.907,0.394,-0.78Q0.46,-0.653,0.494,-0.453Q0.527,-0.253,0.52,-0.02Q0.513,0.213,0.47,0.413Q0.427,0.613,0.327,0.73Q0.227,0.847,0.094,0.88Q-0.04,0.913,-0.19,0.88Q-0.34,0.847,-0.417,0.73Q-0.493,0.613,-0.507,0.447Q-0.52,0.28,-0.464,0.114Q-0.407,-0.053,-0.307,-0.22Q-0.207,-0.387,-0.074,-0.554Q0.06,-0.72,0.127,-0.794Q0.193,-0.867,0.26,-0.887Z", "M-1.257,0.433Q-1.28,0.333,-1.267,0.133Q-1.253,-0.067,-1.16,-0.267Q-1.067,-0.467,-0.934,-0.584Q-0.8,-0.7,-0.667,-0.74Q-0.533,-0.78,-0.367,-0.74Q-0.2,-0.7,0.067,-0.65Q0.333,-0.6,0.667,-0.574Q1,-0.547,1.127,-0.507Q1.253,-0.467,1.287,-0.334Q1.32,-0.2,1.31,0.034Q1.3,0.267,1.15,0.367Q1,0.467,0.667,0.507Q0.333,0.547,0,0.59Q-0.333,0.633,-0.533,0.683Q-0.733,0.733,-0.9,0.707Q-1.067,0.68,-1.15,0.607Q-1.233,0.533,-1.257,0.433Z", "M0.52,0A0.52,0.66,0,1,1,-0.52,0A0.52,0.66,0,1,1,0.52,0Z", "M0.6,0A0.6,0.4,0,1,1,-0.6,0A0.6,0.4,0,1,1,0.6,0Z", "M0,-0.82C0.12,-0.82,0.16,-0.6,0.16,-0.35L0.16,0.35C0.16,0.6,0.12,0.82,0,0.82C-0.12,0.82,-0.16,0.6,-0.16,0.35L-0.16,-0.35C-0.16,-0.6,-0.12,-0.82,0,-0.82Z"]}},
                       "size": {"field": "r", "type": "quantitative", "legend": null, "scale": {"type": "pow", "exponent": 2, "domain": [0, 1], "range": [0, 10000]}}
                     }},
                    {"data": {"values": [{"x1": 3.08, "x2": 6.2, "y1": 500, "y2": 262144}]},
                     "mark": {"type": "rect", "filled": false, "color": "#111", "strokeWidth": 1, "clip": true},
                     "encoding": {
                       "x": {"field": "x1", "type": "quantitative", "axis": {"orient": "bottom", "values": [1.075,1.105,1.135,1.16,1.18,1.21,1.24,1.27,1.3,1.33,1.55,1.68,1.77,1.83,1.88,1.92,1.96,2.301,2.477,2.602,2.699,2.778,2.845,2.903,2.954,3.301,3.477,3.602,3.699,3.778,3.845,3.903,3.954,4.301,4.477,4.602,4.699,4.778,4.845,4.903,4.954,5.301,5.477,5.602,5.699,5.778,5.845,5.903,5.954], "labels": false, "tickSize": 2, "tickWidth": 0.8, "domain": false, "title": null}},
                       "x2": {"field": "x2"},
                       "y": {"field": "y1", "type": "quantitative", "axis": {"orient": "left", "values": [10000,20000,30000,40000,60000,70000,80000,90000,110000,120000,130000,140000,160000,170000,180000,190000,210000,220000,230000,240000,260000], "labels": false, "tickSize": 2.5, "domain": false, "title": null}},
                       "y2": {"field": "y2"}}},
                    {"data": {"values": [{"f": 262144}]},
                     "mark": {"type": "rule", "color": "#444", "strokeWidth": 1},
                     "encoding": {"y": {"field": "f", "type": "quantitative", "axis": null}}},
                    {"data": {"values": [{"u": 4.99, "f": 151500, "t": "mCherry+"}, {"u": 5.02, "f": 135000, "t": "76.6"}]},
                     "mark": {"type": "text", "font": "Liberation Sans", "fontSize": 7.5, "color": "#222"},
                     "encoding": {"x": {"field": "u", "type": "quantitative", "axis": null}, "y": {"field": "f", "type": "quantitative", "axis": null}, "text": {"field": "t"}}}
                  ]
                }
              ]
            }
          ]
        }
      ]
    },
    {
      "width": 867, "height": 2,
      "view": {"stroke": null},
      "data": {"values": [{"a": -0.0392, "b": 1, "c": 0}]},
      "layer": [
        {"mark": {"type": "rule", "strokeWidth": 2, "color": "#000"},
         "encoding": {
           "x": {"field": "a", "type": "quantitative", "scale": {"domain": [0, 1], "nice": false, "zero": false},
                 "axis": {"domain": false, "ticks": false, "labels": false, "grid": false, "title": "mCherry", "titleFont": "Liberation Serif", "titleFontSize": 40, "titleFontWeight": "normal", "titleColor": "#000", "titlePadding": 12, "titleX": 394}},
           "x2": {"field": "b"},
           "y": {"field": "c", "type": "quantitative", "scale": {"domain": [-1, 1]}, "axis": null}
         }},
        {"mark": {"type": "point", "shape": "M-2,-0.9L0,0L-2,0.9Z", "filled": true, "size": 256, "color": "#000", "opacity": 1},
         "encoding": {"x": {"field": "b", "type": "quantitative"}, "y": {"field": "c", "type": "quantitative"}}}
      ]
    }
  ],
  "spacing": 3,
  "config": {
    "view": {"stroke": "#444", "strokeWidth": 1},
    "axis": {"labelFont": "Liberation Sans, DejaVu Sans", "titleFont": "Liberation Sans", "labelFontSize": 7.5, "titleFontSize": 7.5, "titleFontWeight": "normal", "labelColor": "#222", "titleColor": "#222", "domainColor": "#000", "tickColor": "#000", "grid": false, "labelOverlap": false, "labelFlush": false, "labelBound": false}
  }
}
